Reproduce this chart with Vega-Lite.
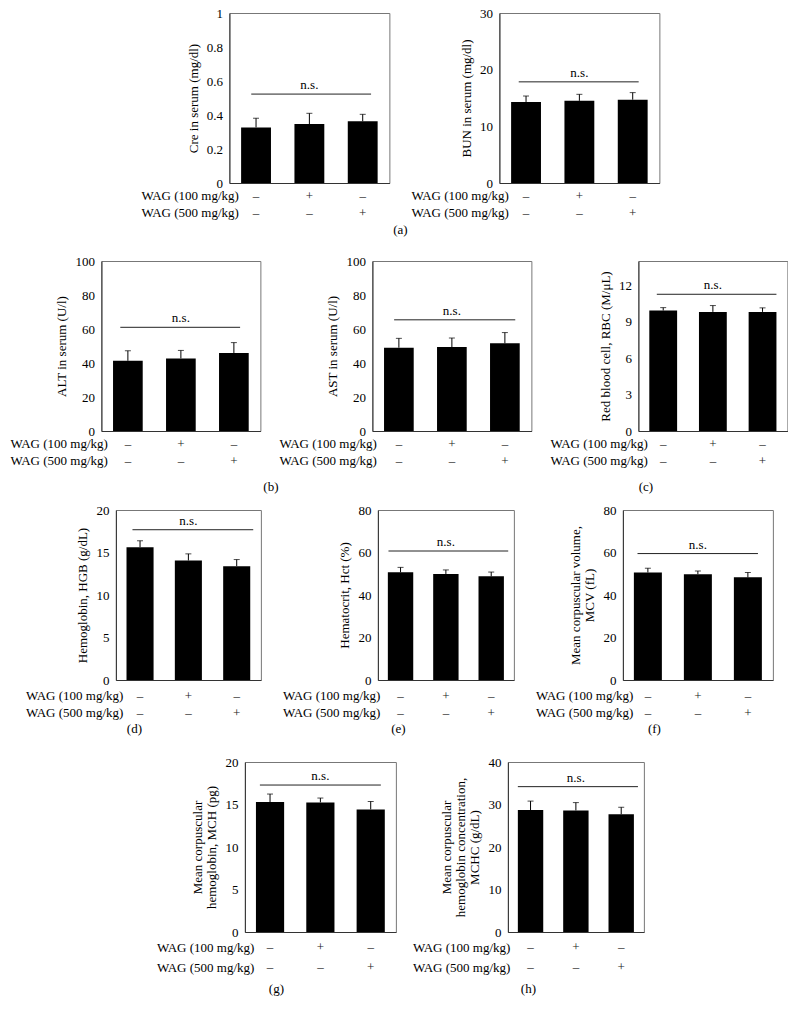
{
"$schema": "https://vega.github.io/schema/vega-lite/v6.json",
"padding": {"left": 9, "top": 6, "right": 0, "bottom": 0},
"background": "white",
"config": {
  "font": "Liberation Serif",
  "view": {"stroke": null},
  "axis": {"labelFont": "Liberation Serif", "titleFont": "Liberation Serif", "labelFontSize": 13, "titleFontSize": 13, "titleFontWeight": "normal", "labelColor": "#000", "titleColor": "#000", "ticks": false, "grid": false, "domainColor": "#333", "labelPadding": 7, "titlePadding": 6, "titleLineHeight": 14, "labelFlush": false},
  "text": {"font": "Liberation Serif", "fontSize": 13, "fill": "#000"},
  "title": {"font": "Liberation Serif", "fontSize": 13, "fontWeight": "normal", "color": "#000"}
},
"datasets": {
  "bars": [
    {"panel": "Cre", "group": "C", "mean": 0.327, "upper": 0.381},
    {"panel": "Cre", "group": "W100", "mean": 0.347, "upper": 0.41},
    {"panel": "Cre", "group": "W500", "mean": 0.363, "upper": 0.404},
    {"panel": "BUN", "group": "C", "mean": 14.3, "upper": 15.35},
    {"panel": "BUN", "group": "W100", "mean": 14.5, "upper": 15.65},
    {"panel": "BUN", "group": "W500", "mean": 14.7, "upper": 15.95},
    {"panel": "ALT", "group": "C", "mean": 41.3, "upper": 47.2},
    {"panel": "ALT", "group": "W100", "mean": 42.7, "upper": 47.4},
    {"panel": "ALT", "group": "W500", "mean": 45.9, "upper": 52.0},
    {"panel": "AST", "group": "C", "mean": 49.0, "upper": 54.5},
    {"panel": "AST", "group": "W100", "mean": 49.4, "upper": 54.7},
    {"panel": "AST", "group": "W500", "mean": 51.6, "upper": 57.9},
    {"panel": "RBC", "group": "C", "mean": 9.92, "upper": 10.16},
    {"panel": "RBC", "group": "W100", "mean": 9.81, "upper": 10.33},
    {"panel": "RBC", "group": "W500", "mean": 9.81, "upper": 10.14},
    {"panel": "HGB", "group": "C", "mean": 15.63, "upper": 16.38},
    {"panel": "HGB", "group": "W100", "mean": 14.06, "upper": 14.84},
    {"panel": "HGB", "group": "W500", "mean": 13.39, "upper": 14.17},
    {"panel": "Hct", "group": "C", "mean": 50.7, "upper": 53.0},
    {"panel": "Hct", "group": "W100", "mean": 49.9, "upper": 51.8},
    {"panel": "Hct", "group": "W500", "mean": 48.8, "upper": 50.8},
    {"panel": "MCV", "group": "C", "mean": 50.6, "upper": 52.6},
    {"panel": "MCV", "group": "W100", "mean": 49.8, "upper": 51.3},
    {"panel": "MCV", "group": "W500", "mean": 48.3, "upper": 50.6},
    {"panel": "MCH", "group": "C", "mean": 15.28, "upper": 16.23},
    {"panel": "MCH", "group": "W100", "mean": 15.25, "upper": 15.76},
    {"panel": "MCH", "group": "W500", "mean": 14.42, "upper": 15.36},
    {"panel": "MCHC", "group": "C", "mean": 28.7, "upper": 30.8},
    {"panel": "MCHC", "group": "W100", "mean": 28.6, "upper": 30.45},
    {"panel": "MCHC", "group": "W500", "mean": 27.7, "upper": 29.35}
  ],
  "ns": [
    {"panel": "Cre", "start": "C", "mid": "W100", "end": "W500", "y": 0.523, "label": "n.s."},
    {"panel": "BUN", "start": "C", "mid": "W100", "end": "W500", "y": 17.85, "label": "n.s."},
    {"panel": "ALT", "start": "C", "mid": "W100", "end": "W500", "y": 61.0, "label": "n.s."},
    {"panel": "AST", "start": "C", "mid": "W100", "end": "W500", "y": 65.4, "label": "n.s."},
    {"panel": "RBC", "start": "C", "mid": "W100", "end": "W500", "y": 11.26, "label": "n.s."},
    {"panel": "HGB", "start": "C", "mid": "W100", "end": "W500", "y": 17.68, "label": "n.s."},
    {"panel": "Hct", "start": "C", "mid": "W100", "end": "W500", "y": 60.7, "label": "n.s."},
    {"panel": "MCV", "start": "C", "mid": "W100", "end": "W500", "y": 59.5, "label": "n.s."},
    {"panel": "MCH", "start": "C", "mid": "W100", "end": "W500", "y": 17.29, "label": "n.s."},
    {"panel": "MCHC", "start": "C", "mid": "W100", "end": "W500", "y": 34.2, "label": "n.s."}
  ],
  "signs": [
    {"row": "WAG (100 mg/kg)", "group": "C", "sign": "–"},
    {"row": "WAG (100 mg/kg)", "group": "W100", "sign": "+"},
    {"row": "WAG (100 mg/kg)", "group": "W500", "sign": "–"},
    {"row": "WAG (500 mg/kg)", "group": "C", "sign": "–"},
    {"row": "WAG (500 mg/kg)", "group": "W100", "sign": "–"},
    {"row": "WAG (500 mg/kg)", "group": "W500", "sign": "+"}
  ]
},
"spacing": 9,
"center": true,
"vconcat": [
 {"spacing": 17, "center": true, "vconcat": [
  {"hconcat": [
    {"vconcat": [
      {"width": 160, "height": 170, "view": {"stroke": "#777"},
       "layer": [
        {"data": {"name": "bars"}, "transform": [{"filter": "datum.panel === 'Cre'"}], "mark": {"type": "bar", "color": "#000"},
         "encoding": {"x": {"field": "group", "type": "nominal", "scale": {"domain": ["C", "W100", "W500"], "paddingInner": 0.44, "paddingOuter": 0.22}, "axis": {"labels": false, "ticks": false, "title": null}},
          "y": {"field": "mean", "type": "quantitative", "scale": {"domain": [0, 1], "nice": false}, "axis": {"values": [0, 0.2, 0.4, 0.6, 0.8, 1], "tickCount": 10, "format": "~g", "labelOverlap": false, "title": "Cre in serum (mg/dl)"}}}},
        {"data": {"name": "bars"}, "transform": [{"filter": "datum.panel === 'Cre'"}], "mark": {"type": "rule", "color": "#000"},
         "encoding": {"x": {"field": "group", "type": "nominal"}, "y": {"field": "mean", "type": "quantitative"}, "y2": {"field": "upper"}}},
        {"data": {"name": "bars"}, "transform": [{"filter": "datum.panel === 'Cre'"}], "mark": {"type": "tick", "color": "#000", "size": 6, "thickness": 1},
         "encoding": {"x": {"field": "group", "type": "nominal"}, "y": {"field": "upper", "type": "quantitative"}}},
        {"data": {"name": "ns"}, "transform": [{"filter": "datum.panel === 'Cre'"}], "mark": {"type": "rule", "color": "#222"},
         "encoding": {"x": {"field": "start", "type": "nominal", "bandPosition": 0.34}, "x2": {"field": "end", "bandPosition": 0.78}, "y": {"field": "y", "type": "quantitative"}}},
        {"data": {"name": "ns"}, "transform": [{"filter": "datum.panel === 'Cre'"}], "mark": {"type": "text", "baseline": "bottom", "dy": -2, "fill": "#000"},
         "encoding": {"x": {"field": "mid", "type": "nominal"}, "y": {"field": "y", "type": "quantitative"}, "text": {"field": "label"}}}
       ]},
      {"width": 160, "height": 34, "data": {"name": "signs"}, "mark": {"type": "text", "fill": "#222"},
       "encoding": {"x": {"field": "group", "type": "nominal", "scale": {"type": "band", "domain": ["C", "W100", "W500"], "paddingInner": 0.44, "paddingOuter": 0.22}, "axis": null},
        "y": {"field": "row", "type": "nominal", "axis": {"title": null, "domain": false, "labelPadding": 0, "offset": -9}},
        "text": {"field": "sign"}}}
     ], "spacing": 4, "bounds": "flush"},
    {"vconcat": [
      {"width": 160, "height": 170, "view": {"stroke": "#777"},
       "layer": [
        {"data": {"name": "bars"}, "transform": [{"filter": "datum.panel === 'BUN'"}], "mark": {"type": "bar", "color": "#000"},
         "encoding": {"x": {"field": "group", "type": "nominal", "scale": {"domain": ["C", "W100", "W500"], "paddingInner": 0.44, "paddingOuter": 0.22}, "axis": {"labels": false, "ticks": false, "title": null}},
          "y": {"field": "mean", "type": "quantitative", "scale": {"domain": [0, 30], "nice": false}, "axis": {"values": [0, 10, 20, 30], "tickCount": 10, "labelOverlap": false, "title": "BUN in serum (mg/dl)"}}}},
        {"data": {"name": "bars"}, "transform": [{"filter": "datum.panel === 'BUN'"}], "mark": {"type": "rule", "color": "#000"},
         "encoding": {"x": {"field": "group", "type": "nominal"}, "y": {"field": "mean", "type": "quantitative"}, "y2": {"field": "upper"}}},
        {"data": {"name": "bars"}, "transform": [{"filter": "datum.panel === 'BUN'"}], "mark": {"type": "tick", "color": "#000", "size": 6, "thickness": 1},
         "encoding": {"x": {"field": "group", "type": "nominal"}, "y": {"field": "upper", "type": "quantitative"}}},
        {"data": {"name": "ns"}, "transform": [{"filter": "datum.panel === 'BUN'"}], "mark": {"type": "rule", "color": "#222"},
         "encoding": {"x": {"field": "start", "type": "nominal", "bandPosition": 0.255}, "x2": {"field": "end", "bandPosition": 0.7}, "y": {"field": "y", "type": "quantitative"}}},
        {"data": {"name": "ns"}, "transform": [{"filter": "datum.panel === 'BUN'"}], "mark": {"type": "text", "baseline": "bottom", "dy": -2, "fill": "#000"},
         "encoding": {"x": {"field": "mid", "type": "nominal"}, "y": {"field": "y", "type": "quantitative"}, "text": {"field": "label"}}}
       ]},
      {"width": 160, "height": 34, "data": {"name": "signs"}, "mark": {"type": "text", "fill": "#222"},
       "encoding": {"x": {"field": "group", "type": "nominal", "scale": {"type": "band", "domain": ["C", "W100", "W500"], "paddingInner": 0.44, "paddingOuter": 0.22}, "axis": null},
        "y": {"field": "row", "type": "nominal", "axis": {"title": null, "domain": false, "labelPadding": 0, "offset": -9}},
        "text": {"field": "sign"}}}
     ], "spacing": 4, "bounds": "flush"}
   ], "spacing": 20, "title": {"text": "(a)", "orient": "bottom", "anchor": "middle", "offset": 3}},
  {"hconcat": [
    {"hconcat": [
      {"vconcat": [
        {"width": 159, "height": 170, "view": {"stroke": "#777"},
         "layer": [
          {"data": {"name": "bars"}, "transform": [{"filter": "datum.panel === 'ALT'"}], "mark": {"type": "bar", "color": "#000"},
           "encoding": {"x": {"field": "group", "type": "nominal", "scale": {"domain": ["C", "W100", "W500"], "paddingInner": 0.44, "paddingOuter": 0.22}, "axis": {"labels": false, "ticks": false, "title": null}},
            "y": {"field": "mean", "type": "quantitative", "scale": {"domain": [0, 100], "nice": false}, "axis": {"values": [0, 20, 40, 60, 80, 100], "tickCount": 10, "labelOverlap": false, "title": "ALT in serum (U/l)"}}}},
          {"data": {"name": "bars"}, "transform": [{"filter": "datum.panel === 'ALT'"}], "mark": {"type": "rule", "color": "#000"},
           "encoding": {"x": {"field": "group", "type": "nominal"}, "y": {"field": "mean", "type": "quantitative"}, "y2": {"field": "upper"}}},
          {"data": {"name": "bars"}, "transform": [{"filter": "datum.panel === 'ALT'"}], "mark": {"type": "tick", "color": "#000", "size": 6, "thickness": 1},
           "encoding": {"x": {"field": "group", "type": "nominal"}, "y": {"field": "upper", "type": "quantitative"}}},
          {"data": {"name": "ns"}, "transform": [{"filter": "datum.panel === 'ALT'"}], "mark": {"type": "rule", "color": "#222"},
           "encoding": {"x": {"field": "start", "type": "nominal", "bandPosition": 0.245}, "x2": {"field": "end", "bandPosition": 0.71}, "y": {"field": "y", "type": "quantitative"}}},
          {"data": {"name": "ns"}, "transform": [{"filter": "datum.panel === 'ALT'"}], "mark": {"type": "text", "baseline": "bottom", "dy": -2, "fill": "#000"},
           "encoding": {"x": {"field": "mid", "type": "nominal"}, "y": {"field": "y", "type": "quantitative"}, "text": {"field": "label"}}}
         ]},
        {"width": 159, "height": 34, "data": {"name": "signs"}, "mark": {"type": "text", "fill": "#222"},
         "encoding": {"x": {"field": "group", "type": "nominal", "scale": {"type": "band", "domain": ["C", "W100", "W500"], "paddingInner": 0.44, "paddingOuter": 0.22}, "axis": null},
          "y": {"field": "row", "type": "nominal", "axis": {"title": null, "domain": false, "labelPadding": 0, "offset": -6}},
          "text": {"field": "sign"}}}
       ], "spacing": 4, "bounds": "flush"},
      {"vconcat": [
        {"width": 159, "height": 170, "view": {"stroke": "#777"},
         "layer": [
          {"data": {"name": "bars"}, "transform": [{"filter": "datum.panel === 'AST'"}], "mark": {"type": "bar", "color": "#000"},
           "encoding": {"x": {"field": "group", "type": "nominal", "scale": {"domain": ["C", "W100", "W500"], "paddingInner": 0.44, "paddingOuter": 0.22}, "axis": {"labels": false, "ticks": false, "title": null}},
            "y": {"field": "mean", "type": "quantitative", "scale": {"domain": [0, 100], "nice": false}, "axis": {"values": [0, 20, 40, 60, 80, 100], "tickCount": 10, "labelOverlap": false, "title": "AST in serum (U/l)"}}}},
          {"data": {"name": "bars"}, "transform": [{"filter": "datum.panel === 'AST'"}], "mark": {"type": "rule", "color": "#000"},
           "encoding": {"x": {"field": "group", "type": "nominal"}, "y": {"field": "mean", "type": "quantitative"}, "y2": {"field": "upper"}}},
          {"data": {"name": "bars"}, "transform": [{"filter": "datum.panel === 'AST'"}], "mark": {"type": "tick", "color": "#000", "size": 6, "thickness": 1},
           "encoding": {"x": {"field": "group", "type": "nominal"}, "y": {"field": "upper", "type": "quantitative"}}},
          {"data": {"name": "ns"}, "transform": [{"filter": "datum.panel === 'AST'"}], "mark": {"type": "rule", "color": "#222"},
           "encoding": {"x": {"field": "start", "type": "nominal", "bandPosition": 0.34}, "x2": {"field": "end", "bandPosition": 0.85}, "y": {"field": "y", "type": "quantitative"}}},
          {"data": {"name": "ns"}, "transform": [{"filter": "datum.panel === 'AST'"}], "mark": {"type": "text", "baseline": "bottom", "dy": -2, "fill": "#000"},
           "encoding": {"x": {"field": "mid", "type": "nominal"}, "y": {"field": "y", "type": "quantitative"}, "text": {"field": "label"}}}
         ]},
        {"width": 159, "height": 34, "data": {"name": "signs"}, "mark": {"type": "text", "fill": "#222"},
         "encoding": {"x": {"field": "group", "type": "nominal", "scale": {"type": "band", "domain": ["C", "W100", "W500"], "paddingInner": 0.44, "paddingOuter": 0.22}, "axis": null},
          "y": {"field": "row", "type": "nominal", "axis": {"title": null, "domain": false, "labelPadding": 0, "offset": -4}},
          "text": {"field": "sign"}}}
       ], "spacing": 4, "bounds": "flush"}
     ], "spacing": 17, "title": {"text": "(b)", "orient": "bottom", "anchor": "middle", "offset": 12}},
    {"vconcat": [
      {"width": 149, "height": 170, "view": {"stroke": "#777"},
       "layer": [
        {"data": {"name": "bars"}, "transform": [{"filter": "datum.panel === 'RBC'"}], "mark": {"type": "bar", "color": "#000"},
         "encoding": {"x": {"field": "group", "type": "nominal", "scale": {"domain": ["C", "W100", "W500"], "paddingInner": 0.44, "paddingOuter": 0.22}, "axis": {"labels": false, "ticks": false, "title": null}},
          "y": {"field": "mean", "type": "quantitative", "scale": {"domain": [0, 14], "nice": false}, "axis": {"values": [0, 3, 6, 9, 12], "tickCount": 10, "labelOverlap": false, "title": "Red blood cell, RBC (M/μL)"}}}},
        {"data": {"name": "bars"}, "transform": [{"filter": "datum.panel === 'RBC'"}], "mark": {"type": "rule", "color": "#000"},
         "encoding": {"x": {"field": "group", "type": "nominal"}, "y": {"field": "mean", "type": "quantitative"}, "y2": {"field": "upper"}}},
        {"data": {"name": "bars"}, "transform": [{"filter": "datum.panel === 'RBC'"}], "mark": {"type": "tick", "color": "#000", "size": 6, "thickness": 1},
         "encoding": {"x": {"field": "group", "type": "nominal"}, "y": {"field": "upper", "type": "quantitative"}}},
        {"data": {"name": "ns"}, "transform": [{"filter": "datum.panel === 'RBC'"}], "mark": {"type": "rule", "color": "#222"},
         "encoding": {"x": {"field": "start", "type": "nominal", "bandPosition": 0.27}, "x2": {"field": "end", "bandPosition": 1.0}, "y": {"field": "y", "type": "quantitative"}}},
        {"data": {"name": "ns"}, "transform": [{"filter": "datum.panel === 'RBC'"}], "mark": {"type": "text", "baseline": "bottom", "dy": -2, "fill": "#000"},
         "encoding": {"x": {"field": "mid", "type": "nominal"}, "y": {"field": "y", "type": "quantitative"}, "text": {"field": "label"}}}
       ]},
      {"width": 149, "height": 34, "data": {"name": "signs"}, "mark": {"type": "text", "fill": "#222"},
       "encoding": {"x": {"field": "group", "type": "nominal", "scale": {"type": "band", "domain": ["C", "W100", "W500"], "paddingInner": 0.44, "paddingOuter": 0.22}, "axis": null},
        "y": {"field": "row", "type": "nominal", "axis": {"title": null, "domain": false, "labelPadding": 0, "offset": -9}},
        "text": {"field": "sign"}}}
     ], "spacing": 4, "bounds": "flush", "title": {"text": "(c)", "orient": "bottom", "anchor": "middle", "offset": 12, "dx": -23}}
   ], "spacing": 17}
 ]},
 {"spacing": 19, "center": true, "vconcat": [
  {"hconcat": [
    {"vconcat": [
      {"width": 145, "height": 170, "view": {"stroke": "#777"},
       "layer": [
        {"data": {"name": "bars"}, "transform": [{"filter": "datum.panel === 'HGB'"}], "mark": {"type": "bar", "color": "#000"},
         "encoding": {"x": {"field": "group", "type": "nominal", "scale": {"domain": ["C", "W100", "W500"], "paddingInner": 0.44, "paddingOuter": 0.22}, "axis": {"labels": false, "ticks": false, "title": null}},
          "y": {"field": "mean", "type": "quantitative", "scale": {"domain": [0, 20], "nice": false}, "axis": {"values": [0, 5, 10, 15, 20], "tickCount": 10, "labelOverlap": false, "title": "Hemoglobin, HGB (g/dL)"}}}},
        {"data": {"name": "bars"}, "transform": [{"filter": "datum.panel === 'HGB'"}], "mark": {"type": "rule", "color": "#000"},
         "encoding": {"x": {"field": "group", "type": "nominal"}, "y": {"field": "mean", "type": "quantitative"}, "y2": {"field": "upper"}}},
        {"data": {"name": "bars"}, "transform": [{"filter": "datum.panel === 'HGB'"}], "mark": {"type": "tick", "color": "#000", "size": 6, "thickness": 1},
         "encoding": {"x": {"field": "group", "type": "nominal"}, "y": {"field": "upper", "type": "quantitative"}}},
        {"data": {"name": "ns"}, "transform": [{"filter": "datum.panel === 'HGB'"}], "mark": {"type": "rule", "color": "#222"},
         "encoding": {"x": {"field": "start", "type": "nominal", "bandPosition": 0.22}, "x2": {"field": "end", "bandPosition": 1.11}, "y": {"field": "y", "type": "quantitative"}}},
        {"data": {"name": "ns"}, "transform": [{"filter": "datum.panel === 'HGB'"}], "mark": {"type": "text", "baseline": "bottom", "dy": -2, "fill": "#000"},
         "encoding": {"x": {"field": "mid", "type": "nominal"}, "y": {"field": "y", "type": "quantitative"}, "text": {"field": "label"}}}
       ]},
      {"width": 145, "height": 34, "data": {"name": "signs"}, "mark": {"type": "text", "fill": "#222"},
       "encoding": {"x": {"field": "group", "type": "nominal", "scale": {"type": "band", "domain": ["C", "W100", "W500"], "paddingInner": 0.44, "paddingOuter": 0.22}, "axis": null},
        "y": {"field": "row", "type": "nominal", "axis": {"title": null, "domain": false, "labelPadding": 0, "offset": -7}},
        "text": {"field": "sign"}}}
     ], "spacing": 7, "bounds": "flush", "title": {"text": "(d)", "orient": "bottom", "anchor": "middle", "offset": 2, "dx": -9}},
    {"vconcat": [
      {"width": 136, "height": 170, "view": {"stroke": "#777"},
       "layer": [
        {"data": {"name": "bars"}, "transform": [{"filter": "datum.panel === 'Hct'"}], "mark": {"type": "bar", "color": "#000"},
         "encoding": {"x": {"field": "group", "type": "nominal", "scale": {"domain": ["C", "W100", "W500"], "paddingInner": 0.44, "paddingOuter": 0.22}, "axis": {"labels": false, "ticks": false, "title": null}},
          "y": {"field": "mean", "type": "quantitative", "scale": {"domain": [0, 80], "nice": false}, "axis": {"values": [0, 20, 40, 60, 80], "tickCount": 10, "labelOverlap": false, "title": "Hematocrit, Hct (%)"}}}},
        {"data": {"name": "bars"}, "transform": [{"filter": "datum.panel === 'Hct'"}], "mark": {"type": "rule", "color": "#000"},
         "encoding": {"x": {"field": "group", "type": "nominal"}, "y": {"field": "mean", "type": "quantitative"}, "y2": {"field": "upper"}}},
        {"data": {"name": "bars"}, "transform": [{"filter": "datum.panel === 'Hct'"}], "mark": {"type": "tick", "color": "#000", "size": 6, "thickness": 1},
         "encoding": {"x": {"field": "group", "type": "nominal"}, "y": {"field": "upper", "type": "quantitative"}}},
        {"data": {"name": "ns"}, "transform": [{"filter": "datum.panel === 'Hct'"}], "mark": {"type": "rule", "color": "#222"},
         "encoding": {"x": {"field": "start", "type": "nominal", "bandPosition": 0.025}, "x2": {"field": "end", "bandPosition": 1.17}, "y": {"field": "y", "type": "quantitative"}}},
        {"data": {"name": "ns"}, "transform": [{"filter": "datum.panel === 'Hct'"}], "mark": {"type": "text", "baseline": "bottom", "dy": -2, "fill": "#000"},
         "encoding": {"x": {"field": "mid", "type": "nominal"}, "y": {"field": "y", "type": "quantitative"}, "text": {"field": "label"}}}
       ]},
      {"width": 136, "height": 34, "data": {"name": "signs"}, "mark": {"type": "text", "fill": "#222"},
       "encoding": {"x": {"field": "group", "type": "nominal", "scale": {"type": "band", "domain": ["C", "W100", "W500"], "paddingInner": 0.44, "paddingOuter": 0.22}, "axis": null},
        "y": {"field": "row", "type": "nominal", "axis": {"title": null, "domain": false, "labelPadding": 0, "offset": -2}},
        "text": {"field": "sign"}}}
     ], "spacing": 7, "bounds": "flush", "title": {"text": "(e)", "orient": "bottom", "anchor": "middle", "offset": 2}},
    {"vconcat": [
      {"width": 150, "height": 170, "view": {"stroke": "#777"},
       "layer": [
        {"data": {"name": "bars"}, "transform": [{"filter": "datum.panel === 'MCV'"}], "mark": {"type": "bar", "color": "#000"},
         "encoding": {"x": {"field": "group", "type": "nominal", "scale": {"domain": ["C", "W100", "W500"], "paddingInner": 0.44, "paddingOuter": 0.22}, "axis": {"labels": false, "ticks": false, "title": null}},
          "y": {"field": "mean", "type": "quantitative", "scale": {"domain": [0, 80], "nice": false}, "axis": {"values": [0, 20, 40, 60, 80], "tickCount": 10, "labelOverlap": false, "title": ["Mean corpuscular volume,", "MCV (fL)"]}}}},
        {"data": {"name": "bars"}, "transform": [{"filter": "datum.panel === 'MCV'"}], "mark": {"type": "rule", "color": "#000"},
         "encoding": {"x": {"field": "group", "type": "nominal"}, "y": {"field": "mean", "type": "quantitative"}, "y2": {"field": "upper"}}},
        {"data": {"name": "bars"}, "transform": [{"filter": "datum.panel === 'MCV'"}], "mark": {"type": "tick", "color": "#000", "size": 6, "thickness": 1},
         "encoding": {"x": {"field": "group", "type": "nominal"}, "y": {"field": "upper", "type": "quantitative"}}},
        {"data": {"name": "ns"}, "transform": [{"filter": "datum.panel === 'MCV'"}], "mark": {"type": "rule", "color": "#222"},
         "encoding": {"x": {"field": "start", "type": "nominal", "bandPosition": 0.13}, "x2": {"field": "end", "bandPosition": 0.86}, "y": {"field": "y", "type": "quantitative"}}},
        {"data": {"name": "ns"}, "transform": [{"filter": "datum.panel === 'MCV'"}], "mark": {"type": "text", "baseline": "bottom", "dy": -2, "fill": "#000"},
         "encoding": {"x": {"field": "mid", "type": "nominal"}, "y": {"field": "y", "type": "quantitative"}, "text": {"field": "label"}}}
       ]},
      {"width": 150, "height": 34, "data": {"name": "signs"}, "mark": {"type": "text", "fill": "#222"},
       "encoding": {"x": {"field": "group", "type": "nominal", "scale": {"type": "band", "domain": ["C", "W100", "W500"], "paddingInner": 0.44, "paddingOuter": 0.22}, "axis": null},
        "y": {"field": "row", "type": "nominal", "axis": {"title": null, "domain": false, "labelPadding": 0, "offset": -10}},
        "text": {"field": "sign"}}}
     ], "spacing": 7, "bounds": "flush", "title": {"text": "(f)", "orient": "bottom", "anchor": "middle", "offset": 2}}
   ], "spacing": 20},
  {"hconcat": [
    {"vconcat": [
      {"width": 151, "height": 170, "view": {"stroke": "#777"},
       "layer": [
        {"data": {"name": "bars"}, "transform": [{"filter": "datum.panel === 'MCH'"}], "mark": {"type": "bar", "color": "#000"},
         "encoding": {"x": {"field": "group", "type": "nominal", "scale": {"domain": ["C", "W100", "W500"], "paddingInner": 0.44, "paddingOuter": 0.22}, "axis": {"labels": false, "ticks": false, "title": null}},
          "y": {"field": "mean", "type": "quantitative", "scale": {"domain": [0, 20], "nice": false}, "axis": {"values": [0, 5, 10, 15, 20], "tickCount": 10, "labelOverlap": false, "title": ["Mean corpuscular", "hemoglobin, MCH (pg)"]}}}},
        {"data": {"name": "bars"}, "transform": [{"filter": "datum.panel === 'MCH'"}], "mark": {"type": "rule", "color": "#000"},
         "encoding": {"x": {"field": "group", "type": "nominal"}, "y": {"field": "mean", "type": "quantitative"}, "y2": {"field": "upper"}}},
        {"data": {"name": "bars"}, "transform": [{"filter": "datum.panel === 'MCH'"}], "mark": {"type": "tick", "color": "#000", "size": 6, "thickness": 1},
         "encoding": {"x": {"field": "group", "type": "nominal"}, "y": {"field": "upper", "type": "quantitative"}}},
        {"data": {"name": "ns"}, "transform": [{"filter": "datum.panel === 'MCH'"}], "mark": {"type": "rule", "color": "#222"},
         "encoding": {"x": {"field": "start", "type": "nominal", "bandPosition": 0.14}, "x2": {"field": "end", "bandPosition": 0.86}, "y": {"field": "y", "type": "quantitative"}}},
        {"data": {"name": "ns"}, "transform": [{"filter": "datum.panel === 'MCH'"}], "mark": {"type": "text", "baseline": "bottom", "dy": -2, "fill": "#000"},
         "encoding": {"x": {"field": "mid", "type": "nominal"}, "y": {"field": "y", "type": "quantitative"}, "text": {"field": "label"}}}
       ]},
      {"width": 151, "height": 40, "data": {"name": "signs"}, "mark": {"type": "text", "fill": "#222"},
       "encoding": {"x": {"field": "group", "type": "nominal", "scale": {"type": "band", "domain": ["C", "W100", "W500"], "paddingInner": 0.44, "paddingOuter": 0.22}, "axis": null},
        "y": {"field": "row", "type": "nominal", "axis": {"title": null, "domain": false, "labelPadding": 0, "offset": -9}},
        "text": {"field": "sign"}}}
     ], "spacing": 5, "bounds": "flush", "title": {"text": "(g)", "orient": "bottom", "anchor": "middle", "offset": 6}},
    {"vconcat": [
      {"width": 136, "height": 170, "view": {"stroke": "#777"},
       "layer": [
        {"data": {"name": "bars"}, "transform": [{"filter": "datum.panel === 'MCHC'"}], "mark": {"type": "bar", "color": "#000"},
         "encoding": {"x": {"field": "group", "type": "nominal", "scale": {"domain": ["C", "W100", "W500"], "paddingInner": 0.44, "paddingOuter": 0.22}, "axis": {"labels": false, "ticks": false, "title": null}},
          "y": {"field": "mean", "type": "quantitative", "scale": {"domain": [0, 40], "nice": false}, "axis": {"values": [0, 10, 20, 30, 40], "tickCount": 10, "labelOverlap": false, "title": ["Mean corpuscular", "hemoglobin concentration,", "MCHC (g/dL)"]}}}},
        {"data": {"name": "bars"}, "transform": [{"filter": "datum.panel === 'MCHC'"}], "mark": {"type": "rule", "color": "#000"},
         "encoding": {"x": {"field": "group", "type": "nominal"}, "y": {"field": "mean", "type": "quantitative"}, "y2": {"field": "upper"}}},
        {"data": {"name": "bars"}, "transform": [{"filter": "datum.panel === 'MCHC'"}], "mark": {"type": "tick", "color": "#000", "size": 6, "thickness": 1},
         "encoding": {"x": {"field": "group", "type": "nominal"}, "y": {"field": "upper", "type": "quantitative"}}},
        {"data": {"name": "ns"}, "transform": [{"filter": "datum.panel === 'MCHC'"}], "mark": {"type": "rule", "color": "#222"},
         "encoding": {"x": {"field": "start", "type": "nominal", "bandPosition": 0.0}, "x2": {"field": "end", "bandPosition": 1.16}, "y": {"field": "y", "type": "quantitative"}}},
        {"data": {"name": "ns"}, "transform": [{"filter": "datum.panel === 'MCHC'"}], "mark": {"type": "text", "baseline": "bottom", "dy": -2, "fill": "#000"},
         "encoding": {"x": {"field": "mid", "type": "nominal"}, "y": {"field": "y", "type": "quantitative"}, "text": {"field": "label"}}}
       ]},
      {"width": 136, "height": 40, "data": {"name": "signs"}, "mark": {"type": "text", "fill": "#222"},
       "encoding": {"x": {"field": "group", "type": "nominal", "scale": {"type": "band", "domain": ["C", "W100", "W500"], "paddingInner": 0.44, "paddingOuter": 0.22}, "axis": null},
        "y": {"field": "row", "type": "nominal", "axis": {"title": null, "domain": false, "labelPadding": 0, "offset": -2}},
        "text": {"field": "sign"}}}
     ], "spacing": 5, "bounds": "flush", "title": {"text": "(h)", "orient": "bottom", "anchor": "middle", "offset": 6}}
   ], "spacing": 15}
 ]}
]
}
